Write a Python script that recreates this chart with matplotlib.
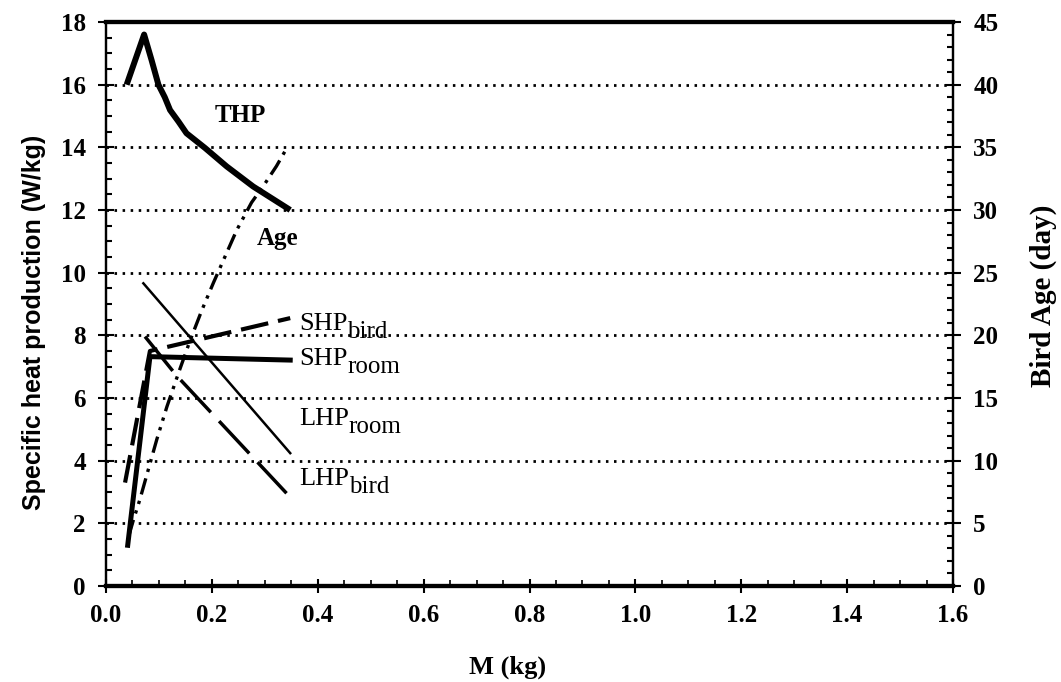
import matplotlib
matplotlib.use("Agg")
import matplotlib.pyplot as plt
from matplotlib.ticker import MultipleLocator
from matplotlib.transforms import offset_copy

# ---- data ----
thp_m = [0.039, 0.072, 0.086, 0.099, 0.111, 0.121, 0.137, 0.152, 0.187, 0.228, 0.278, 0.348]
thp_v = [16.0, 17.6, 16.79, 16.0, 15.6, 15.19, 14.82, 14.45, 13.98, 13.39, 12.75, 12.0]

age_m = [0.043, 0.052, 0.064, 0.080, 0.096, 0.115, 0.137, 0.159, 0.181,
         0.203, 0.225, 0.247, 0.275, 0.297, 0.322, 0.341]
age_d = [4.0, 5.3, 6.9, 9.3, 11.7, 14.3, 17.0, 19.6, 22.0,
         24.2, 26.3, 28.4, 30.6, 31.9, 33.5, 34.9]

shp_bird_m = [0.036, 0.083, 0.348]
shp_bird_v = [3.3, 7.5, 8.55]

shp_room_m = [0.041, 0.083, 0.348]
shp_room_v = [1.3, 7.32, 7.21]

lhp_room_m = [0.0706, 0.348]
lhp_room_v = [9.66, 4.24]

lhp_bird_m = [0.0737, 0.133, 0.341]
lhp_bird_v = [7.96, 6.72, 2.96]

x_ticks = [0.0, 0.2, 0.4, 0.6, 0.8, 1.0, 1.2, 1.4, 1.6]
y_ticks = [0, 2, 4, 6, 8, 10, 12, 14, 16, 18]
y2_ticks = [0, 5, 10, 15, 20, 25, 30, 35, 40, 45]

serif = ["Liberation Serif", "DejaVu Serif"]
narrow = ["Liberation Sans Narrow", "Liberation Sans", "DejaVu Sans"]

fig = plt.figure(figsize=(10.61, 6.82), dpi=100)
ax = fig.add_axes([106 / 1061, 1 - 586 / 682, (953 - 106) / 1061, (586 - 22) / 682])
ax2 = ax.twinx()

ax.set_xlim(0, 1.6)
ax.set_ylim(0, 18)
ax2.set_ylim(0, 45)

# grid (dotted)
for yv in y_ticks[1:-1]:
    ax.axhline(yv, color="black", lw=2.0, linestyle=(0, (0.9, 2.0)), zorder=1)

# series
ax.plot(thp_m, thp_v, color="black", lw=4.3, solid_capstyle="butt",
        solid_joinstyle="round", zorder=5)
ax2.plot(age_m, age_d, color="black", lw=2.4, linestyle=(0, (5, 2, 1, 2, 1, 2)), zorder=4)
ax.plot(shp_bird_m, shp_bird_v, color="black", lw=3.0, linestyle=(0, (6.7, 2.4)), zorder=4)
ax.plot(shp_room_m, shp_room_v, color="black", lw=3.6, zorder=4)
ax.plot(lhp_room_m, lhp_room_v, color="black", lw=1.8, zorder=4)
ax.plot(lhp_bird_m, lhp_bird_v, color="black", lw=2.5, linestyle=(0, (12.7, 3.5)), zorder=4)

# spines
for a in (ax, ax2):
    a.spines["top"].set_linewidth(3.0)
    a.spines["bottom"].set_linewidth(3.0)
    a.spines["left"].set_linewidth(1.6)
    a.spines["right"].set_linewidth(1.6)

# ticks
ax.set_xticks(x_ticks)
ax.set_xticklabels([f"{v:.1f}" for v in x_ticks])
ax.set_yticks(y_ticks)
ax.set_yticklabels([str(v) for v in y_ticks])
ax2.set_yticks(y2_ticks)
ax2.set_yticklabels([str(v) for v in y2_ticks])
ax.xaxis.set_minor_locator(MultipleLocator(0.05))
ax.yaxis.set_minor_locator(MultipleLocator(0.5))
ax2.yaxis.set_minor_locator(MultipleLocator(1))

ax.tick_params(axis="x", which="major", direction="inout", length=10, width=1.5, pad=8)
ax.tick_params(axis="x", which="minor", direction="in", length=4, width=1.2)
ax.tick_params(axis="y", which="major", direction="inout", length=11, width=1.5, pad=9)
ax.tick_params(axis="y", which="minor", direction="in", length=4, width=1.5)
ax2.tick_params(axis="y", which="major", direction="inout", length=11, width=1.5, pad=9)
ax2.tick_params(axis="y", which="minor", direction="in", length=4, width=1.5)

for lab in ax.get_xticklabels() + ax.get_yticklabels() + ax2.get_yticklabels():
    lab.set_fontfamily(serif)
    lab.set_fontweight("bold")
    lab.set_fontsize(18)

ax.set_xlabel("M (kg)", fontfamily=serif, fontweight="bold", fontsize=19)
ax.xaxis.set_label_coords((508 - 106) / 847, -(656 - 586) / 564)
ax.set_ylabel("Specific heat production (W/kg)", fontfamily=narrow, fontweight="bold",
              fontsize=18)
ax.yaxis.set_label_coords(-(106 - 46) / 847, 0.5 - (322 - 304) / 564)
ax2.set_ylabel("Bird Age (day)", fontfamily=serif, fontweight="bold", fontsize=21)
ax2.yaxis.set_label_coords(1 + (1030 - 953) / 847, 0.5 - (296 - 304) / 564)

# curve labels
ax.text(0.253, 15.03, "THP", fontfamily=serif, fontweight="bold", fontsize=18,
        ha="center", va="center", zorder=6)
ax.text(0.285, 10.88, "Age", fontfamily=serif, fontweight="bold", fontsize=18,
        ha="left", va="baseline", zorder=6)

fig.canvas.draw()
renderer = fig.canvas.get_renderer()

def sub_label(x, y, main, sub):
    t = ax.text(x, y, main, fontfamily=serif, fontsize=19, ha="left", va="baseline", zorder=6)
    bb = t.get_window_extent(renderer=renderer)
    w_pts = bb.width * 72.0 / fig.dpi
    tr = offset_copy(ax.transData, fig=fig, x=w_pts, y=-6, units="points")
    ax.text(x, y, sub, fontfamily=serif, fontsize=18, ha="left", va="baseline",
            transform=tr, zorder=6)

sub_label(0.3645, 8.17, "SHP", "bird")
sub_label(0.3645, 7.05, "SHP", "room")
sub_label(0.3645, 5.14, "LHP", "room")
sub_label(0.3645, 3.22, "LHP", "bird")

fig.savefig("out.png", dpi=100)
